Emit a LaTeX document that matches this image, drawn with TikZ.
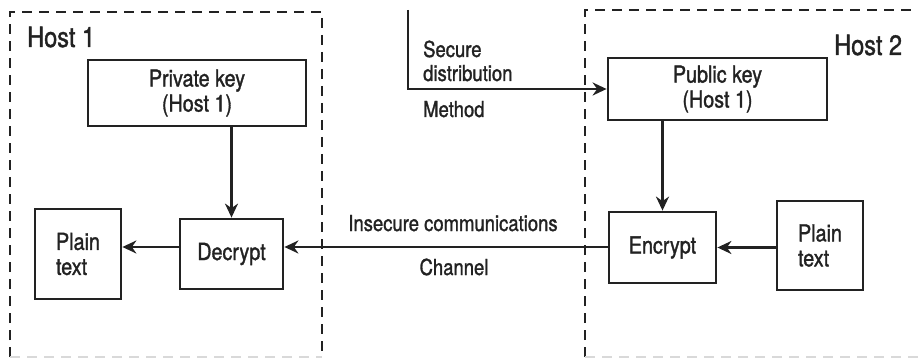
\documentclass[tikz,border=0pt]{standalone}
\usepackage{fontspec}
\setmainfont{TeX Gyre Heros}[FakeStretch=0.84,FakeBold=1.3]
\usetikzlibrary{arrows.meta,positioning,calc}
\definecolor{ink}{HTML}{222222}

\begin{document}
\begin{tikzpicture}[x=1pt,y=-1pt,
    box/.style={draw=ink,line width=2.8pt,inner sep=0pt,text=ink,align=center,
      font=\fontsize{23.5}{25}\selectfont},
    hostframe/.style={draw=ink,line width=2.6pt,dash pattern=on 10pt off 7pt},
    hostfoot/.style={draw=black!15,line width=1.6pt,dash pattern=on 10pt off 7pt},
    flow/.style={draw=ink,line width=2.6pt,-{Stealth[length=14pt,width=13pt]}},
    lbl/.style={text=ink,inner sep=0pt,font=\fontsize{22}{24}\selectfont},
    hostlbl/.style={text=ink,inner sep=0pt,anchor=base west,font=\fontsize{28}{30}\selectfont}]
  \useasboundingbox (0,0) rectangle (918,358);

  % host frames
  \draw[hostframe] (10,357)--(10,12)--(322,12)--(322,357);
  \draw[hostfoot] (10,357)--(322,357);
  \draw[hostframe] (585,357)--(585,10)--(918,10);
  \draw[hostfoot] (585,357)--(918,357);
  \node[hostlbl] (h1) at (27,47) {Host 1};
  \node[hostlbl] (h2) at (834,55) {Host 2};

  % host 1 side
  \node[box,minimum width=218pt,minimum height=66pt] (priv) at (197,93) {Private key\\(Host 1)};
  \node[box,minimum width=103pt,minimum height=70pt] (dec) at (231.5,254) {Decrypt};
  \node[box,minimum width=86pt,minimum height=90pt,align=left] (ptl) at (78,254) {Plain\\text};

  % host 2 side
  \node[box,minimum width=219pt,minimum height=62pt] (pub) at (717.5,89) {Public key\\(Host 1)};
  \node[box,minimum width=107pt,minimum height=71pt] (enc) at (662.5,247.5) {Encrypt};
  \node[box,minimum width=86pt,minimum height=89pt,align=left] (ptr) at (820,245.5) {Plain\\text};

  \coordinate (chan) at (0,247);
  \coordinate (sd) at (408,10);

  % connectors
  \draw[flow] (dec.north |- priv.south) -- (dec.north);
  \draw[flow] (dec.west |- chan) -- (ptl.east |- chan);
  \draw[flow] (enc.west |- chan) -- (dec.east |- chan);
  \draw[flow] (enc.north |- pub.south) -- (enc.north);
  \draw[flow] (ptr.west |- enc.east) -- (enc.east);
  \draw[flow] (sd) |- (pub.west);

  % channel labels
  \node[lbl,anchor=base west] (sec) at (423,57) {Secure};
  \node[lbl,anchor=base west] (dist) at (423,81) {distribution};
  \node[lbl,anchor=base west] (meth) at (423,117) {Method};
  \node[lbl,anchor=base] (ins) at (453,231) {Insecure communications};
  \node[lbl,anchor=base] (chl) at (454,275) {Channel};
\end{tikzpicture}
\end{document}
